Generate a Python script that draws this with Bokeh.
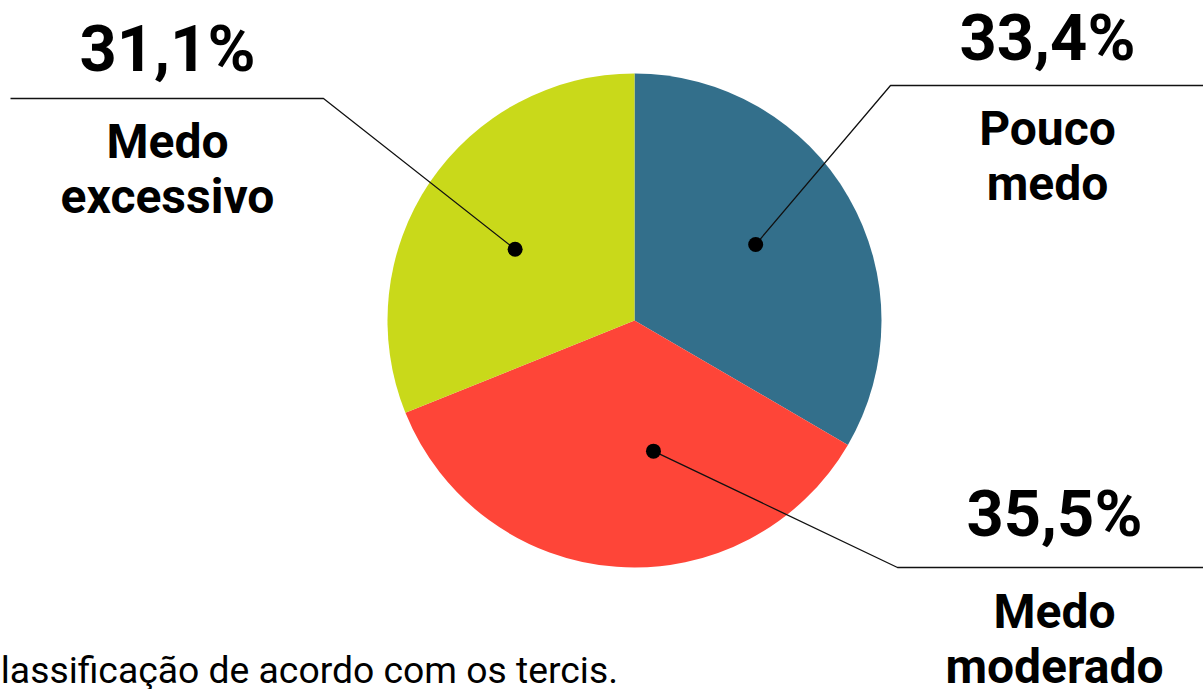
import math
from bokeh.plotting import figure
from bokeh.models import Range1d
from bokeh.core.properties import value
from bokeh.embed import file_html
from bokeh.resources import INLINE

# ---- data ----
categories = ["Pouco medo", "Medo moderado", "Medo excessivo"]
label_lines = [["Pouco", "medo"], ["Medo", "moderado"], ["Medo", "excessivo"]]
values = [33.4, 35.5, 31.1]
colors = ["#336F8B", "#FE4538", "#C9D91A"]
footnote = "Classificação de acordo com os tercis."

# ---- layout (screen pixels) ----
W, H = 1203, 689
CX, CY, R = 634, 320, 247
# dot placement: (angle offset from slice middle in deg, distance from center)
dot_layout = [(-2.2, 143), (-12.4, 132), (-3.2, 139)]
# elbow point and line end x for leader lines
elbows = [(890, 85, 1203), (897, 567, 1203), (323, 98, 10)]
# text anchors: (center x, pct baseline y, first label baseline y)
text_pos = [(1047, 62, 146), (1054, 538, 629), (167, 73, 159)]
LINE_GAP = 55
PCT_SIZE, LBL_SIZE, NOTE_SIZE = 65, 48, 37.3
BASE_K = 0.37  # renderer baseline correction, fraction of font size

def Y(y, size=0):
    return H - (y - BASE_K * size)

p = figure(width=W, height=H, output_backend="svg", toolbar_location=None,
           x_range=Range1d(0, W), y_range=Range1d(0, H),
           min_border=0, outline_line_color=None, background_fill_color="white",
           border_fill_color="white")
p.axis.visible = False
p.grid.visible = False
p.margin = (0, 0, 0, 0)

total = sum(values)
start = math.pi / 2
starts, ends, mids = [], [], []
for v in values:
    a = 2 * math.pi * v / total
    starts.append(start)
    ends.append(start - a)
    mids.append(start - a / 2)
    start -= a

p.wedge(x=[CX] * 3, y=[Y(CY)] * 3, radius=R, start_angle=starts, end_angle=ends,
        direction="clock", fill_color=colors, line_color=None)

font = value("Roboto")
for i, cat in enumerate(categories):
    off, dist = dot_layout[i]
    ang = mids[i] - math.radians(off)
    dx = CX + dist * math.cos(ang)
    dy = Y(CY) + dist * math.sin(ang)
    ex, ey, endx = elbows[i]
    p.line([dx, ex, endx], [dy, Y(ey), Y(ey)], line_color="#111111", line_width=1.3)
    p.scatter([dx], [dy], size=15, fill_color="black", line_color=None)
    tx, py, ly = text_pos[i]
    pct = ("%.1f%%" % values[i]).replace(".", ",")
    p.text([tx], [Y(py, PCT_SIZE)], text=[pct], text_align="center", text_baseline="alphabetic",
           text_font=font, text_font_style="bold", text_font_size=f"{PCT_SIZE}px",
           text_color="black")
    for j, ln in enumerate(label_lines[i]):
        p.text([tx], [Y(ly + j * LINE_GAP, LBL_SIZE)], text=[ln], text_align="center",
               text_baseline="alphabetic", text_font=font, text_font_style="bold",
               text_font_size=f"{LBL_SIZE}px", text_color="black")

p.text([-24], [Y(683, NOTE_SIZE)], text=[footnote], text_align="left", text_baseline="alphabetic",
       text_font=font, text_font_size=f"{NOTE_SIZE}px", text_color="black")

open("out.html", "w").write(file_html(p, INLINE))
